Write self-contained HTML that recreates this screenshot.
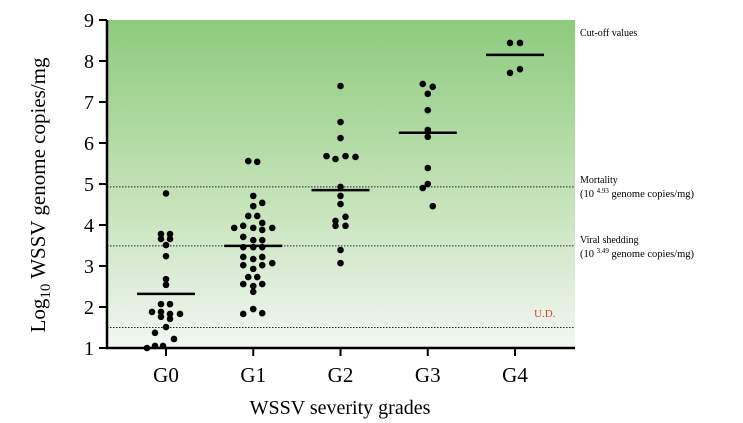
<!DOCTYPE html>
<html><head><meta charset="utf-8"><style>
html,body{margin:0;padding:0;background:#fff;}
svg{display:block;font-family:"Liberation Serif",serif;}
</style></head><body>
<svg id="chart" width="743" height="423">
<defs><linearGradient id="bg" x1="0" y1="0" x2="0" y2="1">
<stop offset="0" stop-color="#8ecb7e"/><stop offset="0.55" stop-color="#c4e3b8"/><stop offset="1" stop-color="#f2f6f3"/></linearGradient></defs>
<rect x="107" y="20" width="468" height="328" fill="url(#bg)"/>
<g id="marks"></g>
<g id="axes"></g>
<text x="580" y="36" font-size="10">Cut-off values</text>
<text x="580" y="183" font-size="10">Mortality</text>
<text x="580" y="197" font-size="10.5">(10 <tspan font-size="7" dy="-4">4.93</tspan><tspan dy="4"> genome copies/mg)</tspan></text>
<text x="580" y="243" font-size="10">Viral shedding</text>
<text x="580" y="257" font-size="10.5">(10 <tspan font-size="7" dy="-4">3.49</tspan><tspan dy="4"> genome copies/mg)</tspan></text>
<text x="534" y="317" font-size="11" fill="#e0442c">U.D.</text>
<text transform="translate(45,195) rotate(-90)" text-anchor="middle" font-size="21">Log<tspan font-size="15" dy="5">10</tspan><tspan dy="-5"> WSSV genome copies/mg</tspan></text>
<text x="340" y="414" text-anchor="middle" font-size="20">WSSV severity grades</text>
</svg>
<script>
const categories=["G0","G1","G2","G3","G4"];
const yTicks=[1,2,3,4,5,6,7,8,9];
const cutoffs=[4.93,3.49,1.5];
const medians=[2.32,3.49,4.85,6.25,8.15];
const g0=[4.77,3.78,3.78,3.66,3.66,3.51,3.24,2.68,2.54,2.07,2.07,1.88,1.88,1.83,1.83,1.76,1.71,1.51,1.37,1.22,1.0,1.05,1.05];
const g1=[5.56,5.54,4.71,4.46,4.54,4.22,4.22,4.05,3.93,3.98,3.93,3.88,3.93,3.71,3.63,3.63,3.46,3.46,3.46,3.22,3.17,3.22,3.07,3.02,2.93,3.02,2.73,2.73,2.56,2.51,2.56,2.37,1.83,1.95,1.85];
const g2=[7.39,6.51,6.12,5.68,5.61,5.68,5.66,4.93,4.71,4.51,4.1,4.2,3.98,3.98,3.39,3.07];
const g3=[7.44,7.37,7.2,6.8,6.32,6.15,5.39,5.0,4.9,4.46];
const g4=[8.44,8.44,7.71,7.8];
const jit0=[0,-5,4,-5,4,0,0,0,0,-5,4,-14,-5,4,14,-5,4,0,-11,8,-19,-11,-3];
const jit1=[-5,4,0,0,9,-5,4,9,-19,-10,0,9,19,-10,0,9,-10,0,9,-10,0,9,19,-10,0,9,-5,4,-10,0,9,0,-10,0,9];
const jit2=[0,0,0,-14,-5,5,15,0,0,0,-5,5,-5,5,0,0];
const jit3=[-5,5,0,0,0,0,0,0,-5,5,0];
const jit4=[-5,5,-5,5];
const series=[g0,g1,g2,g3,g4], jits=[jit0,jit1,jit2,jit3,jit4];
const NS="http://www.w3.org/2000/svg";
const X0=107,X1=575,Y0=348,Y1=20;
function y(v){return Y0-(v-1)/(9-1)*(Y0-Y1);}
function x(i){return 166+i*87.25;}
function mk(t,a,p){const e=document.createElementNS(NS,t);for(const k in a)e.setAttribute(k,a[k]);p.appendChild(e);return e;}
const marks=document.getElementById('marks'),axes=document.getElementById('axes');
cutoffs.forEach((c,i)=>{const l=mk('line',{x1:X0,x2:X1,y1:y(c),y2:y(c),stroke:'#222','stroke-width':1,'stroke-dasharray':'1.5,1.5'},marks);

});
series.forEach((s,i)=>{s.forEach((v,j)=>{const c=mk('circle',{cx:x(i)+(jits[i][j]||0),cy:y(v),r:3.3,fill:'#000'},marks);

});
const m=mk('line',{x1:x(i)-29,x2:x(i)+29,y1:y(medians[i]),y2:y(medians[i]),stroke:'#000','stroke-width':2.5},marks);

});
const ya=mk('line',{x1:X0,x2:X0,y1:Y1,y2:Y0+1,stroke:'#000','stroke-width':2.5},axes);


const xa=mk('line',{x1:X0-1,x2:X1,y1:Y0,y2:Y0,stroke:'#000','stroke-width':2.5},axes);


yTicks.forEach(t=>{mk('line',{x1:X0-8,x2:X0,y1:y(t),y2:y(t),stroke:'#000','stroke-width':2},axes);
const tx=mk('text',{x:X0-13,y:y(t)+7,'text-anchor':'end','font-size':20},axes);tx.textContent=t;

});
categories.forEach((c,i)=>{mk('line',{x1:x(i),x2:x(i),y1:Y0,y2:Y0+8,stroke:'#000','stroke-width':2},axes);
const tx=mk('text',{x:x(i),y:Y0+34,'text-anchor':'middle','font-size':21},axes);tx.textContent=c;

});
</script>
</body></html>
